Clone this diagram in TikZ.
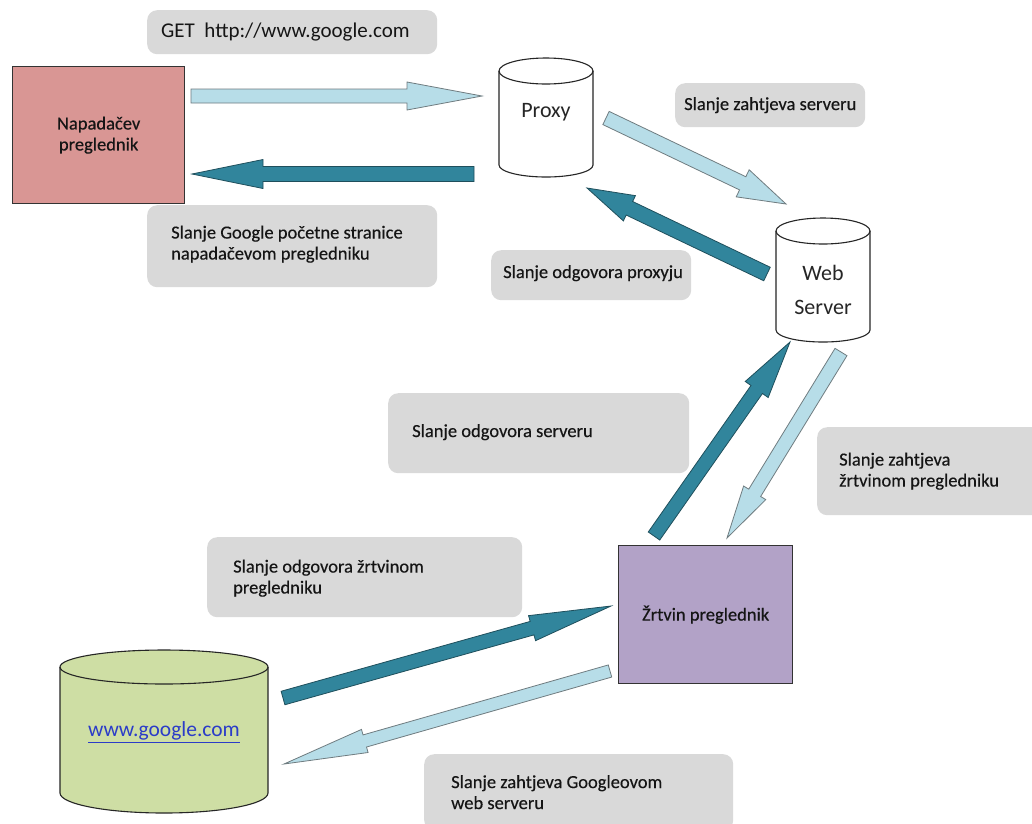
\documentclass[tikz,border=0pt]{standalone}
\usepackage{fontspec}
\setmainfont{Carlito}
\newfontfamily\labelfont[FakeBold=0.35]{Carlito}
\usetikzlibrary{calc}
\definecolor{pinkfill}{HTML}{D99694}
\definecolor{lavfill}{HTML}{B2A2C7}
\definecolor{greenfill}{HTML}{CEDEA4}
\definecolor{boxgrey}{HTML}{D9D9D9}
\definecolor{lightarr}{HTML}{B7DDE8}
\definecolor{lightarrline}{HTML}{6F7C80}
\definecolor{darkarr}{HTML}{31859C}
\definecolor{darkarrline}{HTML}{1F4F5C}
\definecolor{linkblue}{HTML}{2B3CC8}
\definecolor{labeltext}{HTML}{151515}

% #1 style, #2 from, #3 to, #4 shaft half width, #5 head half width, #6 head length
\newcommand{\blockarrow}[6]{%
  \coordinate (ba-h) at ($(#3)!#6!(#2)$);
  \draw[#1] ($(#2)!#4!90:(#3)$) -- ($(ba-h)!#4!90:(#3)$) -- ($(ba-h)!#5!90:(#3)$) -- (#3)
    -- ($(ba-h)!#5!-90:(#3)$) -- ($(ba-h)!#4!-90:(#3)$) -- ($(#2)!#4!-90:(#3)$) -- cycle;
}
% #1 L, #2 R, #3 top centre y, #4 bottom centre y, #5 top ry, #6 bottom ry, #7 fill
\newcommand{\drawcyl}[7]{%
  \pgfmathsetmacro{\cylrx}{(#2-#1)/2}
  \filldraw[fill=#7, draw=black!85, line width=1.1pt] (#1,#3) -- (#1,#4)
    arc[start angle=180, end angle=360, x radius=\cylrx pt, y radius=#6pt]
    -- (#2,#3) arc[start angle=0, end angle=180, x radius=\cylrx pt, y radius=#5pt] -- cycle;
  \draw[black!85, line width=1.1pt] (#1,#3)
    arc[start angle=180, end angle=360, x radius=\cylrx pt, y radius=#5pt];
}

\begin{document}
\begin{tikzpicture}[x=1pt,y=-1pt,
  gbox/.style={fill=boxgrey, rounded corners=10pt, anchor=north west, inner sep=0pt},
  gtext/.style={anchor=west, align=left, inner sep=0pt, text=labeltext,
    font=\labelfont\fontsize{18.5}{21}\selectfont},
  lightblock/.style={fill=lightarr, draw=lightarrline, line width=0.8pt},
  darkblock/.style={fill=darkarr, draw=darkarrline, line width=0.8pt},
  browser/.style={draw=black!80, line width=1.3pt, anchor=north west, align=center,
    font=\labelfont\fontsize{18.5}{21}\selectfont, text=labeltext},
  cyltext/.style={font=\fontsize{22}{34}\selectfont, text=black!85, align=center},
]
\useasboundingbox (0,0) rectangle (1032,823);
\clip (0,0) rectangle (1032,823);
\fill[white] (0,0) rectangle (1032,823);

% grey label boxes
\node[gbox, minimum width=290pt, minimum height=44pt] (bget) at (147,10) {};
\node[gtext, font=\fontsize{21}{25}\selectfont] (tget) at ($(bget.west)+(14,0)$)
  {GET\ \ http://www.google.com};
\node[gbox, minimum width=290pt, minimum height=82pt] (bpage) at (147,205) {};
\node[gtext] (tpage) at ($(bpage.west)+(24,-2)$)
  {Slanje Google početne stranice\\napadačevom pregledniku};
\node[gbox, minimum width=190pt, minimum height=44pt] (breqsrv) at (675,83) {};
\node[gtext] (treqsrv) at ($(breqsrv.west)+(9,0)$) {Slanje zahtjeva serveru};
\node[gbox, minimum width=200pt, minimum height=50pt] (bresproxy) at (491,250) {};
\node[gtext] (tresproxy) at ($(bresproxy.west)+(12,-2)$) {Slanje odgovora proxyju};
\node[gbox, minimum width=301pt, minimum height=80pt] (bressrv) at (388,393) {};
\node[gtext] (tressrv) at ($(bressrv.west)+(24,-1)$) {Slanje odgovora serveru};
\node[gbox, minimum width=240pt, minimum height=88pt] (breqvict) at (817,427) {};
\node[gtext] (treqvict) at ($(breqvict.west)+(22,0)$) {Slanje zahtjeva\\žrtvinom pregledniku};
\node[gbox, minimum width=315pt, minimum height=80pt] (bresvict) at (207,537) {};
\node[gtext] (tresvict) at ($(bresvict.west)+(26,1)$) {Slanje odgovora žrtvinom\\pregledniku};
\node[gbox, minimum width=309pt, minimum height=76pt] (breqgoogle) at (424,754) {};
\node[gtext] (treqgoogle) at ($(breqgoogle.west)+(27,0)$) {Slanje zahtjeva Googleovom\\web serveru};

% browsers
\node[browser, fill=pinkfill, minimum width=172pt, minimum height=137pt] (attacker)
  at (12,66) {Napadačev\\preglednik};
\node[browser, fill=lavfill, minimum width=174pt, minimum height=138pt] (victim)
  at (618,545) {Žrtvin preglednik};

% cylinders
\drawcyl{499}{593}{71}{165}{13}{12}{white}
\node[cyltext] (proxy) at (546,112) {Proxy};
\drawcyl{776}{870}{231}{330}{13}{12}{white}
\node[cyltext] (websrv) at (823,290) {Web\\Server};
\drawcyl{60}{268}{667}{793}{17}{20}{greenfill}
\node[font=\fontsize{21.5}{26}\selectfont, text=linkblue] (google) at (164,732)
  {\underline{www.google.com}};

% arrow end points
\coordinate (a1s) at (191,96);  \coordinate (a1e) at (482,96);
\coordinate (a2s) at (474,174); \coordinate (a2e) at (192,174);
\coordinate (a3s) at (606,118); \coordinate (a3e) at (786,204);
\coordinate (a4s) at (767,274); \coordinate (a4e) at (587,188);
\coordinate (a5s) at (654,536); \coordinate (a5e) at (790,342);
\coordinate (a6s) at (841,352); \coordinate (a6e) at (727,538);
\coordinate (a7s) at (283,698); \coordinate (a7e) at (611,606);
\coordinate (a8s) at (610,671); \coordinate (a8e) at (284,764);

\blockarrow{lightblock}{a1s}{a1e}{7pt}{14pt}{75pt}
\blockarrow{darkblock}{a2s}{a2e}{7.5pt}{14.5pt}{71pt}
\blockarrow{lightblock}{a3s}{a3e}{7.3pt}{15pt}{48pt}
\blockarrow{darkblock}{a4s}{a4e}{7.5pt}{14pt}{47pt}
\blockarrow{darkblock}{a5s}{a5e}{7pt}{14pt}{58pt}
\blockarrow{lightblock}{a6s}{a6e}{7pt}{13pt}{53pt}
\blockarrow{darkblock}{a7s}{a7e}{7pt}{13pt}{82pt}
\blockarrow{lightblock}{a8s}{a8e}{6.3pt}{12pt}{84pt}
\end{tikzpicture}
\end{document}
